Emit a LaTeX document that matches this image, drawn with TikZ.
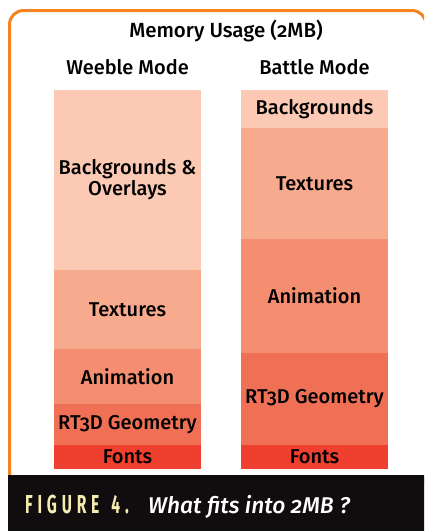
\documentclass[tikz,border=0pt]{standalone}
\usepackage{fontspec}
\setmainfont{Fira Sans}[Numbers=OldStyle, UprightFont=* Medium, ItalicFont=* Medium Italic, BoldFont=* Bold]
\usetikzlibrary{positioning}

\definecolor{frameorange}{HTML}{F5841F}
\definecolor{bgcol}{HTML}{FBC9B4}
\definecolor{texcol}{HTML}{F8AA8F}
\definecolor{animcol}{HTML}{F58D70}
\definecolor{geomcol}{HTML}{F07056}
\definecolor{fontcol}{HTML}{EE3F2F}
\definecolor{captionbg}{HTML}{110C0E}
\definecolor{figyellow}{HTML}{F3EDB0}

\newcommand{\lk}{\kern8pt}

\begin{document}
\begin{tikzpicture}[
    x=1pt, y=-1pt,
    node distance=0pt,
    every node/.style={font=\fontsize{20}{21}\selectfont},
    block/.style={
        rectangle,
        minimum width=147pt,
        inner sep=0pt,
        outer sep=0pt,
        align=center,
        text=black
    },
    bgblock/.style={block, fill=bgcol},
    texblock/.style={block, fill=texcol},
    animblock/.style={block, fill=animcol},
    geomblock/.style={block, fill=geomcol},
    fontblock/.style={block, fill=fontcol, minimum height=24pt},
    heading/.style={anchor=base}
]
\clip (0,0) rectangle (424,531);

% ==================== FRAME ====================
\draw[frameorange, line width=3pt, rounded corners=14pt] (9.5,490) rectangle (426,10.5);

% ==================== HEADINGS ====================
\node[heading, font=\fontsize{20.5}{22}\selectfont] (title) at (226,37) {Memory Usage (2MB)};
\node[heading] (weeble) at (127.5,74) {Weeble Mode};
\node[heading] (battle) at (314.5,74) {Battle Mode};

% ==================== WEEBLE MODE ====================
\node[bgblock, minimum height=180pt, anchor=north west] (wbg) at (54,90) {Backgrounds \&\\Overlays};
\node[texblock, minimum height=79pt, below=of wbg] (wtex) {Textures};
\node[animblock, minimum height=55pt, below=of wtex] (wanim) {Animation};
\node[geomblock, minimum height=41pt, below=of wanim] (wgeom) {RT3D Geometry};
\node[fontblock, below=of wgeom] (wfont) {Fonts};

% ==================== BATTLE MODE ====================
\node[bgblock, minimum height=38pt, anchor=north west] (bbg) at (241,90) {Backgrounds};
\node[texblock, minimum height=111pt, below=of bbg] (btex) {Textures};
\node[animblock, minimum height=114pt, below=of btex] (banim) {Animation};
\node[geomblock, minimum height=92pt, below=of banim] (bgeom) {RT3D Geometry};
\node[fontblock, below=of bgeom] (bfont) {Fonts};

% ==================== CAPTION ====================
\fill[captionbg] (8,475) rectangle (426,533);
\node[anchor=base west, inner sep=0pt, text=figyellow, font=\fontsize{26}{28}\selectfont\bfseries] (figlabel) at (25,513)
    {\scalebox{0.6}[1]{\addfontfeatures{Numbers=Lining}F\lk I\lk G\lk U\lk R\lk E\kern20pt 4\lk .}};
\node[anchor=base west, inner sep=0pt, text=white, font=\fontsize{22.8}{24}\selectfont\itshape] (figtext) at (148,513)
    {What fits into 2MB ?};

\end{tikzpicture}
\end{document}
